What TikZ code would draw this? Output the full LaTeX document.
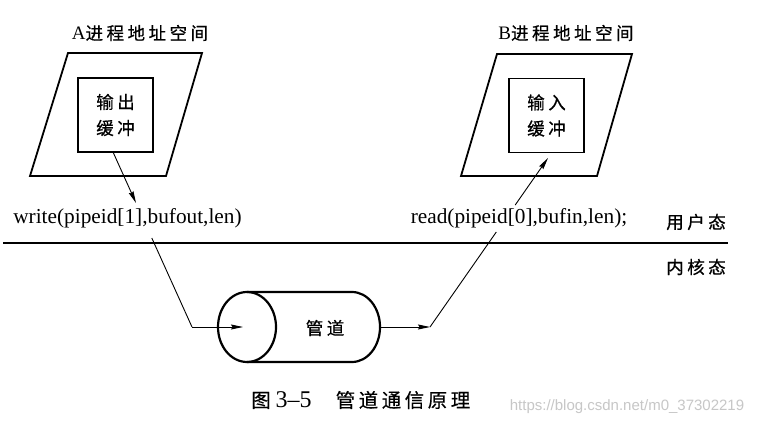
\documentclass[tikz,border=0pt]{standalone}
\usepackage{fontspec}
\setmainfont{Liberation Serif}
\newfontfamily\cjk[LetterSpace=20,FakeBold=0.6]{Noto Sans CJK SC}
\newfontfamily\cjkcap[LetterSpace=18,FakeBold=0.4]{Noto Sans CJK SC}
\newfontfamily\wmfont{Liberation Sans}
\usetikzlibrary{arrows.meta}
\begin{document}
\begin{tikzpicture}[x=1pt,y=-1pt,
  thickline/.style={line width=1.8pt,line join=miter},
  conn/.style={line width=0.9pt},
  arr/.style={conn,-{Stealth[length=12pt,width=5pt,inset=1.5pt]}},
  lab/.style={inner sep=0pt,font={\fontsize{17.5}{20}\selectfont\cjk}},
  code/.style={inner sep=0pt,font={\fontsize{21.3}{24}\selectfont}},
  bufbox/.style={draw,thickline,minimum width=75pt,minimum height=74pt,inner sep=0pt,align=center,font={\fontsize{17.5}{26}\selectfont\cjk}}
]
\useasboundingbox (0,0) rectangle (760,425);
\fill[white] (0,0) rectangle (760,425);

% A side
\node[lab] (titleA) at (140,33) {{\fontsize{19}{20}\rmfamily A}进程地址空间};
\draw[thickline] (68,53) -- (202,53) -- (166,176) -- (30,176) -- cycle;
\node[bufbox] (boxA) at (115.5,115) {输出\\缓冲};
\node[code] (writeT) at (127.5,218) {write(pipeid[1],bufout,len)};
\coordinate (a0) at (113,152);
\coordinate (a1) at (136,203);
\coordinate (a2) at (151.8,238);
\coordinate (c1) at (192,327);
\coordinate (pin) at (243,327);
\draw[arr] (a0) -- (a1);
\draw[conn] (a2) -- (c1);
\draw[arr] (c1) -- (pin);

% B side
\node[lab] (titleB) at (566,33) {{\fontsize{19}{20}\rmfamily B}进程地址空间};
\draw[thickline] (497,54) -- (632,54) -- (597,176) -- (461,176) -- cycle;
\node[bufbox] (boxB) at (546.5,115.5) {输入\\缓冲};
\node[code] (readT) at (519,218) {read(pipeid[0],bufin,len);};
\coordinate (pout) at (380,327);
\coordinate (r1) at (430,327);
\coordinate (r2) at (496.3,232);
\coordinate (r3) at (515.2,205);
\coordinate (r4) at (548,158);
\draw[arr] (pout) -- (r1);
\draw[conn] (r1) -- (r2);
\draw[arr] (r3) -- (r4);

% separator
\draw[line width=2pt] (3,243) -- (728,243);
\node[lab] (user) at (696,222) {用户态};
\node[lab] (kernel) at (696,267) {内核态};

% pipe cylinder
\draw[line width=2.2pt] (247,327) ellipse [x radius=29,y radius=35];
\draw[line width=2.2pt] (247,292) -- (352,292)
  arc[start angle=-90,end angle=90,x radius=28,y radius=35] -- (247,362);
\node[lab] (pipe) at (325,328) {管道};

% caption
\node[inner sep=0pt,anchor=west,font={\fontsize{21}{22}\selectfont}] (cap) at (251,400)
  {{\fontsize{19.5}{22}\cjkcap 图}\hspace{5pt}{\fontsize{24}{24}\selectfont 3–5}\hspace{24pt}{\fontsize{19.5}{22}\cjkcap 管道通信原理}};

% watermark
\node[inner sep=0pt,text=black!22,font={\fontsize{15}{18}\selectfont\wmfont}] (wm) at (627,407) {https://blog.csdn.net/m0\_37302219};
\end{tikzpicture}
\end{document}
